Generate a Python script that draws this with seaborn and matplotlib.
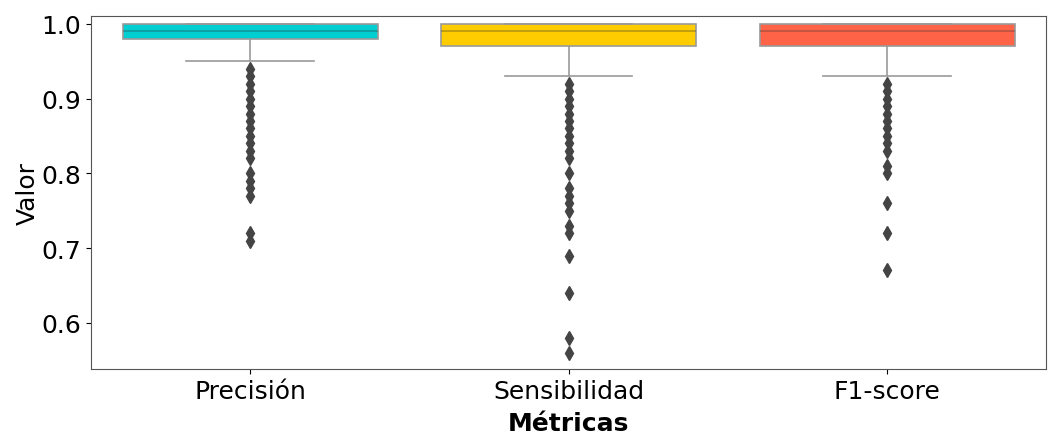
import numpy as np
import pandas as pd
import seaborn as sns
import matplotlib.pyplot as plt

metricas = ['Precisión', 'Sensibilidad', 'F1-score']
colores = ['#00CED1', '#FFCC00', '#FF6347']

# frequency tables read off the boxes (value -> approx. count)
prec_vals = [1.00, 0.99, 0.98, 0.97, 0.96, 0.95]
prec_counts = [300, 250, 200, 60, 30, 15]
prec_outliers = [0.94, 0.93, 0.92, 0.91, 0.90, 0.89, 0.88, 0.87, 0.86, 0.85,
                 0.84, 0.83, 0.82, 0.80, 0.79, 0.78, 0.77, 0.72, 0.71]

sens_vals = [1.00, 0.99, 0.98, 0.97, 0.96, 0.95, 0.94, 0.93]
sens_counts = [250, 200, 120, 120, 40, 20, 10, 5]
sens_outliers = [0.92, 0.91, 0.90, 0.89, 0.88, 0.87, 0.86, 0.85, 0.84, 0.83,
                 0.82, 0.80, 0.78, 0.77, 0.76, 0.75, 0.73, 0.72, 0.69, 0.64,
                 0.58, 0.56]

f1_vals = [1.00, 0.99, 0.98, 0.97, 0.96, 0.95, 0.94, 0.93]
f1_counts = [250, 200, 120, 120, 40, 20, 10, 5]
f1_outliers = [0.92, 0.91, 0.90, 0.89, 0.88, 0.87, 0.86, 0.85, 0.84, 0.83,
               0.81, 0.80, 0.76, 0.72, 0.67]

prec = list(np.repeat(prec_vals, prec_counts)) + prec_outliers
sens = list(np.repeat(sens_vals, sens_counts)) + sens_outliers
f1 = list(np.repeat(f1_vals, f1_counts)) + f1_outliers

df = pd.DataFrame({
    'Métricas': [metricas[0]] * len(prec) + [metricas[1]] * len(sens) + [metricas[2]] * len(f1),
    'Valor': prec + sens + f1,
})

fig = plt.figure(figsize=(10.57, 4.39), dpi=100)
ax = fig.add_axes([0.086, 0.157, 0.904, 0.805])

sns.boxplot(data=df, x='Métricas', y='Valor', hue='Métricas', palette=colores,
            legend=False, width=0.8, saturation=1, linecolor='#999999', linewidth=1.2,
            medianprops=dict(color='#333333', alpha=0.35),
            flierprops=dict(marker='d', markerfacecolor='#444444',
                            markeredgecolor='#444444', markersize=7),
            ax=ax)

ax.set_ylim(0.538, 1.011)
ax.set_yticks([0.6, 0.7, 0.8, 0.9, 1.0])
ax.tick_params(labelsize=18)
ax.set_xlabel('Métricas', fontsize=18, fontweight='bold', labelpad=6)
ax.set_ylabel('Valor', fontsize=18, labelpad=1)
for s in ax.spines.values():
    s.set_color('#555555')

plt.savefig('out.png', dpi=100)
